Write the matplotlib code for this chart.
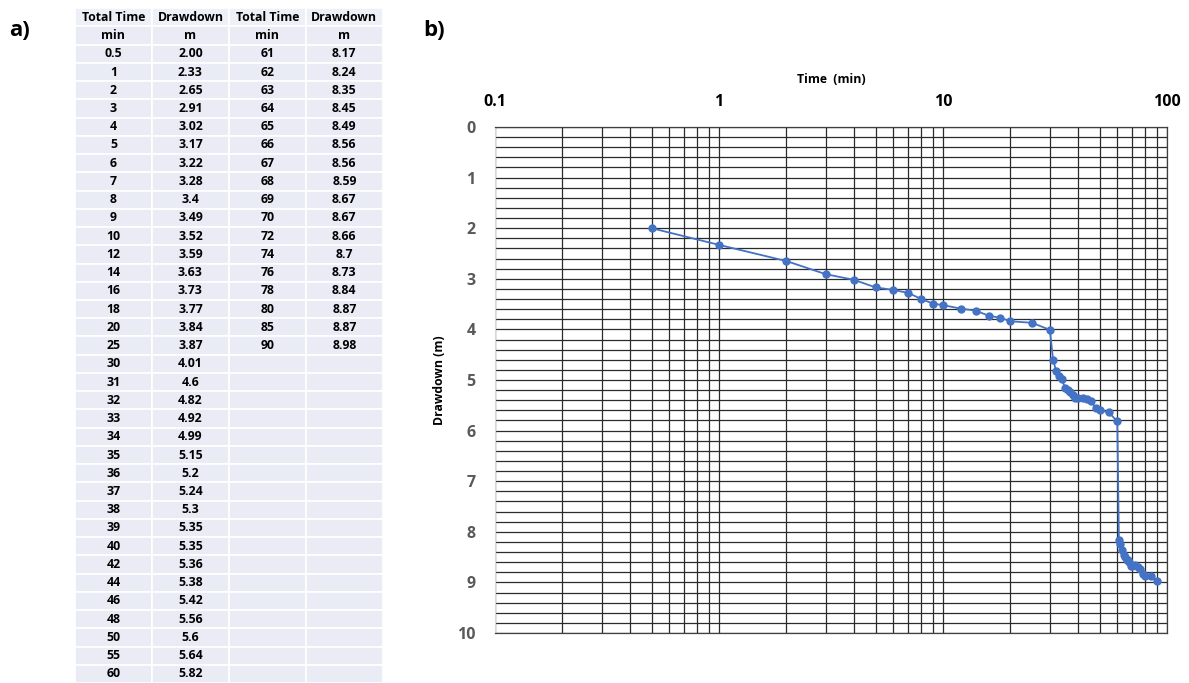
import matplotlib
matplotlib.use('Agg')
import numpy as np
import matplotlib.pyplot as plt
from matplotlib.ticker import FixedLocator, NullFormatter, MultipleLocator

plt.rcParams['font.family'] = ['Open Sans', 'DejaVu Sans']

# ========== data ==========
time_min = [0.5, 1, 2, 3, 4, 5, 6, 7, 8, 9, 10, 12, 14, 16, 18, 20, 25, 30,
            31, 32, 33, 34, 35, 36, 37, 38, 39, 40, 42, 44, 46, 48, 50, 55, 60,
            61, 62, 63, 64, 65, 66, 67, 68, 69, 70, 72, 74, 76, 78, 80, 85, 90]
drawdown_m = ['2.00', '2.33', '2.65', '2.91', '3.02', '3.17', '3.22', '3.28', '3.4',
              '3.49', '3.52', '3.59', '3.63', '3.73', '3.77', '3.84', '3.87', '4.01',
              '4.6', '4.82', '4.92', '4.99', '5.15', '5.2', '5.24', '5.3', '5.35',
              '5.35', '5.36', '5.38', '5.42', '5.56', '5.6', '5.64', '5.82',
              '8.17', '8.24', '8.35', '8.45', '8.49', '8.56', '8.56', '8.59', '8.67',
              '8.67', '8.66', '8.7', '8.73', '8.84', '8.87', '8.87', '8.98']
header1 = ['Total Time', 'Drawdown', 'Total Time', 'Drawdown']
header2 = ['min', 'm', 'min', 'm']
n_left = 35

fig = plt.figure(figsize=(11.89, 6.83), dpi=100)

# ========== a) table ==========
rows = [header1, header2]
for i in range(n_left):
    r = [f"{time_min[i]:g}", drawdown_m[i]]
    j = i + n_left
    if j < len(time_min):
        r += [f"{time_min[j]:g}", drawdown_m[j]]
    else:
        r += ['', '']
    rows.append(r)

tax = fig.add_axes([0.063, 0.0, 0.259, 0.988])
tax.axis('off')
tbl = tax.table(cellText=rows, cellLoc='center', bbox=[0, 0, 1, 1])
tbl.auto_set_font_size(False)
for (r, c), cell in tbl.get_celld().items():
    cell.set_edgecolor('white')
    cell.set_linewidth(1.2)
    cell.set_facecolor('#EEF0F7' if r == 0 else '#E9EBF5')
    cell.get_text().set_fontsize(8.8)
    cell.get_text().set_fontweight('bold')

fig.text(0.008, 0.955, 'a)', fontsize=16, fontweight='bold', va='center')
fig.text(0.356, 0.955, 'b)', fontsize=16, fontweight='bold', va='center')

# ========== b) chart ==========
ax = fig.add_axes([0.4163, 0.0732, 0.5652, 0.7409])
t = np.array(time_min, dtype=float)
s = np.array([float(v) for v in drawdown_m])
ax.plot(t, s, color='#4472C4', lw=1.3, marker='o', ms=5, zorder=3)

ax.set_xscale('log')
ax.set_xlim(0.1, 100)
ax.set_ylim(10, 0)
ax.xaxis.set_major_locator(FixedLocator([0.1, 1, 10, 100]))
ax.xaxis.set_major_formatter(plt.FuncFormatter(lambda v, p: f"{v:g}"))
minors = [m * d for d in [0.1, 1, 10] for m in range(2, 10)]
ax.xaxis.set_minor_locator(FixedLocator(minors))
ax.xaxis.set_minor_formatter(NullFormatter())
ax.yaxis.set_major_locator(MultipleLocator(1))
ax.yaxis.set_minor_locator(MultipleLocator(0.2))

ax.xaxis.tick_top()
ax.xaxis.set_label_position('top')
ax.tick_params(axis='x', which='both', length=0, pad=12, labelsize=11.5)
ax.tick_params(axis='y', which='both', length=0, pad=14, labelsize=11.5, labelcolor='#595959')
for lbl in ax.get_xticklabels() + ax.get_yticklabels():
    lbl.set_fontweight('bold')

ax.grid(True, which='both', color='#2b2b2b', lw=0.9)
ax.set_axisbelow(True)
for sp in ax.spines.values():
    sp.set_color('#404040')
    sp.set_linewidth(0.9)
ax.spines['left'].set_color('#d9d9d9')

ax.set_xlabel('Time  (min)', fontsize=8.8, fontweight='bold', labelpad=8)
ax.set_ylabel('Drawdown (m)', fontsize=8.8, fontweight='bold', labelpad=8)

plt.savefig('out.png', dpi=100)
